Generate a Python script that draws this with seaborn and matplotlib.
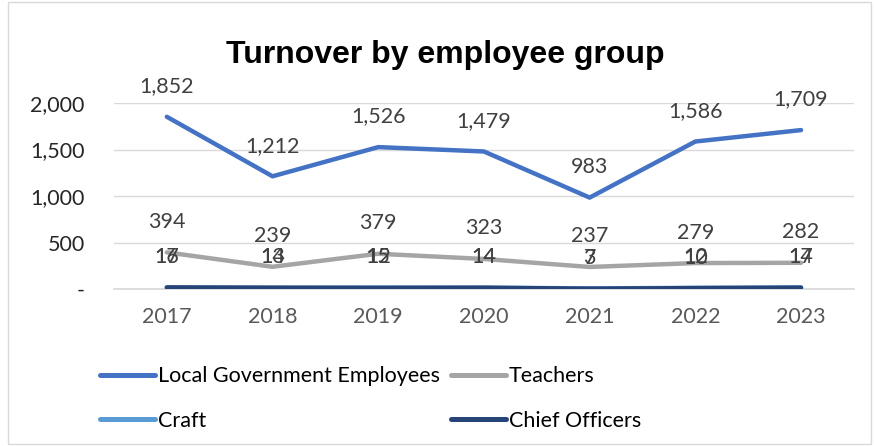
import matplotlib
matplotlib.use("Agg")
import matplotlib.pyplot as plt
import matplotlib.patches as mpatches
import matplotlib.ticker as mticker
import seaborn as sns
import pandas as pd

years = ["2017", "2018", "2019", "2020", "2021", "2022", "2023"]
local_gov = [1852, 1212, 1526, 1479, 983, 1586, 1709]
teachers = [394, 239, 379, 323, 237, 279, 282]
craft = [16, 13, 15, 14, 7, 12, 17]
chief_officers = [17, 14, 12, 14, 3, 10, 14]

series_names = ["Local Government Employees", "Teachers", "Craft", "Chief Officers"]
series_values = [local_gov, teachers, craft, chief_officers]
colors = ["#4472C4", "#A5A5A5", "#5B9BD5", "#264478"]

rows = []
for name, vals in zip(series_names, series_values):
    for i, (y, v) in enumerate(zip(years, vals)):
        rows.append({"idx": i, "year": y, "series": name, "value": v})
df = pd.DataFrame(rows)

sns.set_theme(style="white")
plt.rcParams["font.family"] = ["Lato", "DejaVu Sans"]

FS = 15.5

fig = plt.figure(figsize=(8.74, 4.46), dpi=100)
ax = fig.add_axes([0.1304, 0.352, 0.8466, 0.417])

sns.lineplot(data=df, x="idx", y="value", hue="series", hue_order=series_names,
             palette=colors, linewidth=3.2, ax=ax, legend=False, zorder=3)

for name, vals, c in zip(series_names, series_values, colors):
    for i, v in enumerate(vals):
        ax.annotate(f"{v:,}", (i, v), xytext=(0, 22), textcoords="offset points",
                    ha="center", va="center", fontsize=FS, color="#404040")

ax.set_xlim(-0.5, len(years) - 0.5)
ax.set_ylim(0, 2000)
ax.set_xticks(range(len(years)))
ax.set_xticklabels(years)
ax.set_yticks([0, 500, 1000, 1500, 2000])
ax.yaxis.set_major_formatter(mticker.FuncFormatter(lambda v, p: "-" if v == 0 else f"{int(v):,}"))
ax.tick_params(axis="both", length=0, labelsize=FS)
ax.tick_params(axis="x", pad=13, colors="#595959")
ax.tick_params(axis="y", pad=21, colors="#262626")
ax.grid(axis="y", color="#D9D9D9", linewidth=1)
ax.set_axisbelow(True)
for s in ["top", "right", "left"]:
    ax.spines[s].set_visible(False)
ax.spines["bottom"].set_color("#D9D9D9")
ax.set_xlabel("")
ax.set_ylabel("")

fig.text(0.510, 0.876, "Turnover by employee group", ha="center", va="center",
         fontsize=23, fontweight="bold", family="Liberation Sans", color="black")

# legend filled row by row: (LGE, Teachers) then (Craft, Chief Officers)
order = [0, 2, 1, 3]
handles = [plt.Line2D([0], [0], color=colors[k], linewidth=3.6, solid_capstyle="round") for k in order]
labels = [series_names[k] for k in order]
leg = fig.legend(handles, labels, loc="upper left", bbox_to_anchor=(0.1144, 0.179),
                 ncol=2, frameon=False, fontsize=FS, handlelength=2.55, handletextpad=0.15,
                 columnspacing=0.5, labelspacing=1.15, borderaxespad=0, borderpad=0)
for t in leg.get_texts():
    t.set_color("black")

fig.patches.append(mpatches.Rectangle((0.009, 0.004), 0.988, 0.992, transform=fig.transFigure,
                                      fill=False, edgecolor="#D9D9D9", linewidth=1))

fig.savefig("out.png", dpi=100)
